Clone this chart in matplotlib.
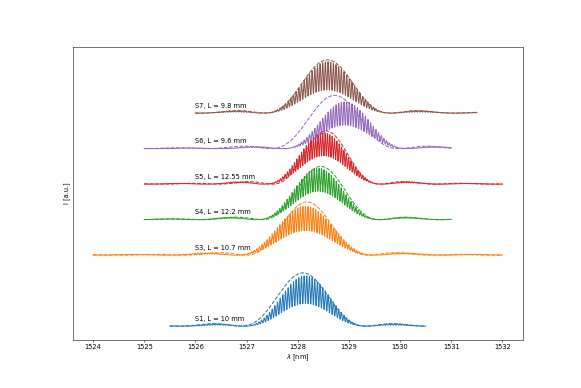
import numpy as np
import matplotlib
matplotlib.use('Agg')
import matplotlib.pyplot as plt

# Sample names and crystal lengths (labels)
names = ['S1', 'S3', 'S4', 'S5', 'S6', 'S7']
lengths = ['10', '10.7', '12.2', '12.55', '9.6', '9.8']
offsets = [0, 2, 3, 4, 5, 6]

# wavelength span of each measured spectrum [nm]
x_start = [1525.5, 1524.0, 1525.0, 1525.0, 1525.0, 1526.0]
x_end = [1530.5, 1532.0, 1531.0, 1532.0, 1531.0, 1531.5]

# fitted (dashed) sinc^2 envelope: centre, first-zero distance, peak
fit_centre = [1528.10, 1528.18, 1528.45, 1528.55, 1528.72, 1528.58]
fit_width = [1.22, 1.20, 1.15, 1.05, 1.25, 1.22]
fit_peak = [1.5, 1.5, 1.5, 1.5, 1.5, 1.5]

# measured (solid) spectrum: centre, first-zero distance, peak, fringe period, fringe contrast
meas_centre = [1528.15, 1528.15, 1528.40, 1528.50, 1528.92, 1528.58]
meas_width = [1.20, 1.35, 1.20, 1.15, 1.22, 1.25]
meas_peak = [1.42, 1.38, 1.45, 1.45, 1.32, 1.45]
fringe_period = [0.052, 0.050, 0.048, 0.046, 0.052, 0.052]
fringe_contrast = [0.55, 0.50, 0.45, 0.45, 0.50, 0.55]

colors = ['C0', 'C1', 'C2', 'C3', 'C4', 'C5']


def sinc2(x, centre, width):
    return np.sinc((x - centre) / width) ** 2


fig = plt.figure(figsize=(581 / 48, 388 / 48), dpi=48)
ax = fig.add_subplot(111)
fig.subplots_adjust(bottom=0.125)

for i in range(len(names)):
    x = np.linspace(x_start[i], x_end[i], 6000)
    # measured spectrum with interference fringes
    env = meas_peak[i] * sinc2(x, meas_centre[i], meas_width[i])
    mod = 1 - fringe_contrast[i] * np.sin(np.pi * x / fringe_period[i]) ** 2
    ax.plot(x, offsets[i] + env * mod, color=colors[i], lw=1.5)
    # fitted envelope
    fit = fit_peak[i] * sinc2(x, fit_centre[i], fit_width[i])
    ax.plot(x, offsets[i] + fit, color=colors[i], ls='--', lw=1.5)
    ax.text(1526.0, offsets[i] + 0.15, names[i] + ', L = ' + lengths[i] + ' mm',
            fontsize=10)

ax.set_yticks([])
ax.set_xlabel(r'$\lambda$ [nm]')
ax.set_ylabel('I [a.u.]')

fig.savefig('out.png', dpi=48)
